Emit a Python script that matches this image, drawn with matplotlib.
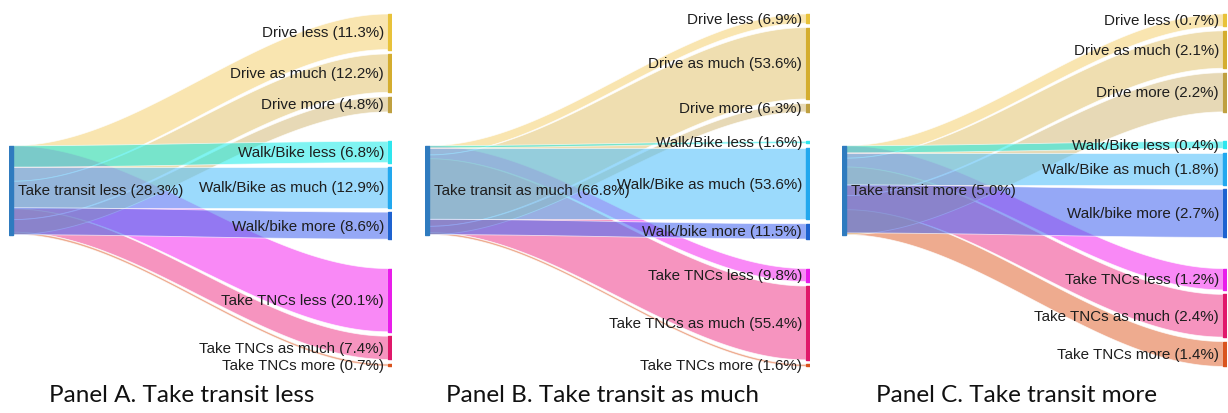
import numpy as np
import matplotlib.pyplot as plt
from matplotlib.patches import Polygon, Rectangle

# data (percent of respondents)
panel_titles = ["Panel A. Take transit less", "Panel B. Take transit as much", "Panel C. Take transit more"]
source_names = ["Take transit less", "Take transit as much", "Take transit more"]
source_values = [28.3, 66.8, 5.0]

target_names = ["Drive less", "Drive as much", "Drive more",
                "Walk/Bike less", "Walk/Bike as much", "Walk/bike more",
                "Take TNCs less", "Take TNCs as much", "Take TNCs more"]
panel_a = [11.3, 12.2, 4.8, 6.8, 12.9, 8.6, 20.1, 7.4, 0.7]
panel_b = [6.9, 53.6, 6.3, 1.6, 53.6, 11.5, 9.8, 55.4, 1.6]
panel_c = [0.7, 2.1, 2.2, 0.4, 1.8, 2.7, 1.2, 2.4, 1.4]
panel_values = [panel_a, panel_b, panel_c]

source_color = "#2f7bbf"
node_colors = ["#e8c23a", "#d4ad2f", "#bfa040",
               "#2ee6ee", "#22a8ee", "#1e62d0",
               "#e81eea", "#e0186a", "#d9541e"]
link_colors = [(0.96, 0.80, 0.39, 0.5), (0.88, 0.75, 0.39, 0.5), (0.82, 0.71, 0.43, 0.5),
               (0.0, 0.92, 0.90, 0.5), (0.35, 0.76, 0.98, 0.6), (0.31, 0.43, 0.94, 0.6),
               (0.96, 0.16, 0.94, 0.55), (0.94, 0.24, 0.55, 0.55), (0.88, 0.40, 0.20, 0.55)]
# TNC links underneath, then drive, walk/bike on top
group_z = [2, 2.5, 1]

W_PX, H_PX = 1228, 414
S = 89.0      # pixels per source height
TOP = 15.0    # top of first node, px
g = 0.05      # gap between nodes of a group
G = 0.33      # gap between groups
bar = 4.0

panel_left = [9, 425, 842]
panel_width = [383, 385, 385]
title_x = [182, 603, 1017]


def link(ax, xs, xt, a0, a1, b0, b1, color, z):
    x = np.linspace(xs, xt, 80)
    u = (x - xs) / (xt - xs)
    s = 3 * u**2 - 2 * u**3
    top = a0 + (b0 - a0) * s
    bot = a1 + (b1 - a1) * s
    pts = np.vstack([np.column_stack([x, top]), np.column_stack([x[::-1], bot[::-1]])])
    ax.add_patch(Polygon(pts, closed=True, facecolor=color, edgecolor=(1, 1, 1, 0.7),
                         lw=0.6, zorder=z))


fig = plt.figure(figsize=(W_PX / 100, H_PX / 100), dpi=100)

for p in range(3):
    left, W = panel_left[p], panel_width[p]
    ax = fig.add_axes([left / W_PX, 0, W / W_PX, 1])
    ax.set_xlim(0, W)
    ax.set_ylim((H_PX - TOP) / S, -TOP / S)
    ax.axis("off")

    src = source_values[p]
    vals = panel_values[p]
    group_h = 1 + 2 * g
    src_top = (group_h + G) + g

    # target node positions
    tops, heights = [], []
    for k in range(3):
        y = k * (group_h + G)
        for i in range(3):
            h = vals[3 * k + i] / src
            tops.append(y)
            heights.append(h)
            y += h + g

    # links: each group spans the whole source node
    for k in range(3):
        y0 = src_top
        for i in range(3):
            j = 3 * k + i
            h = heights[j]
            link(ax, bar, W - bar, y0, y0 + h, tops[j], tops[j] + h, link_colors[j], group_z[k])
            y0 += h

    ax.add_patch(Rectangle((0, src_top), bar, 1, color=source_color, zorder=3))
    for j in range(9):
        ax.add_patch(Rectangle((W - bar, tops[j]), bar, heights[j], color=node_colors[j], zorder=3))
        ax.text(W - bar - 4, tops[j] + heights[j] / 2, f"{target_names[j]} ({vals[j]}%)",
                ha="right", va="center", fontsize=10.9, family="Liberation Sans",
                color="#1e1e1e", zorder=4)

    ax.text(bar + 5, src_top + 0.5, f"{source_names[p]} ({src}%)", ha="left", va="center",
            fontsize=10.9, family="Liberation Sans", color="#1e1e1e", zorder=4)

    fig.text(title_x[p] / W_PX, 1 - 396 / H_PX, panel_titles[p], ha="center", va="center",
             fontsize=17.5, family="Lato", color="#111111")

fig.savefig("out.png", dpi=100)
